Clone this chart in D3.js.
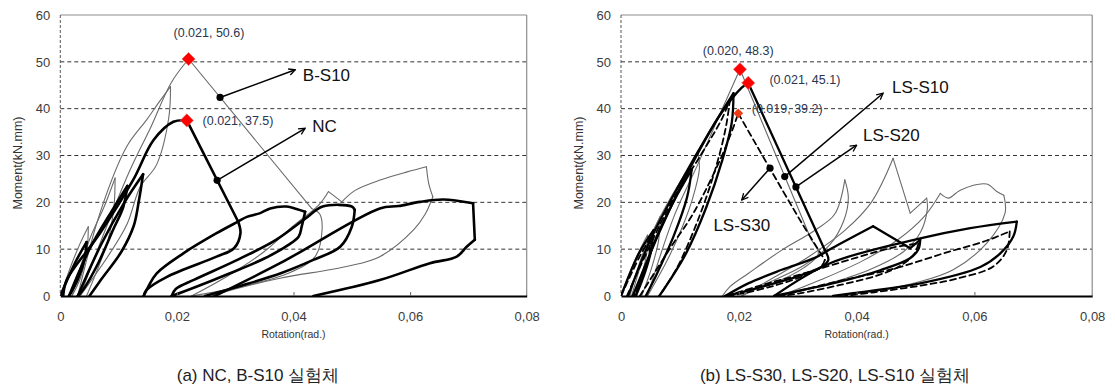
<!DOCTYPE html>
<html>
<head>
<meta charset="utf-8">
<script src="https://cdn.jsdelivr.net/npm/d3@7"></script>
<style>
  body { margin: 0; background: #fff; }
  text { font-family: "Liberation Sans", Arial, sans-serif; }
</style>
</head>
<body>
<div id="chart"></div>
<script>
// axis values
var xTicks = [0, 0.02, 0.04, 0.06, 0.08];
var xTickLabels = ["0", "0,02", "0,04", "0,06", "0,08"];
var yTicks = [0, 10, 20, 30, 40, 50, 60];
var gridValues = [10, 20, 30, 40, 50];

// moment-rotation branches [rotation, moment], one array per loading / unloading branch
// (a) NC
var ncBranches = [
  [[0,0],[0.0025,7],[0.0045,11.5]],
  [[0.0045,11.5],[0.0042,8],[0.003,3.5],[0.0015,0]],
  [[0.0015,0],[0.005,10],[0.009,18.5],[0.0115,23.5]],
  [[0.0115,23.5],[0.0108,19],[0.009,14],[0.0065,7],[0.004,1.5],[0.003,0]],
  [[0.003,0],[0.007,11],[0.011,20],[0.0142,26]],
  [[0.0142,26],[0.0135,20.5],[0.0126,15],[0.0105,9.5],[0.007,3.5],[0.005,0]],
  [[0.0005,0],[0.0011,3.4],[0.0068,13.4],[0.0125,24.8],[0.016,33.3],[0.0194,37.2],[0.0217,37.5]],
  [[0.0217,37.5],[0.0305,15.9]],
  [[0.0305,15.9],[0.0309,13.4],[0.0298,10.2],[0.0268,8.4],[0.0183,4.1],[0.0148,1.3],[0.0143,0]],
  [[0.0143,0],[0.0151,2],[0.0165,4.8],[0.0211,9.1],[0.0268,13.4],[0.0305,15.9],[0.032,16.9],[0.0343,17.7],[0.036,18.7],[0.0388,19.1],[0.0405,18.6],[0.042,18]],
  [[0.042,18],[0.0414,14.8],[0.0409,12.7],[0.039,10.8],[0.035,8],[0.029,4.8],[0.023,1.8],[0.0191,0]],
  [[0.0191,0],[0.0198,1.5],[0.023,3.5],[0.03,7.5],[0.037,12],[0.042,16.5],[0.045,19.1],[0.05,19.1],[0.0505,18.4]],
  [[0.0505,18.4],[0.05,14.8],[0.048,10.5],[0.0434,7.7],[0.0377,4.8],[0.031,2.2],[0.0248,0]],
  [[0.0265,0],[0.0377,7.0],[0.0548,18.7],[0.058,19.2],[0.0617,20.1],[0.0657,20.6],[0.0708,19.8]],
  [[0.0708,19.8],[0.0711,12.0]],
  [[0.0711,12.0],[0.0697,10.5],[0.068,8.4],[0.0634,7.0],[0.0548,3.4],[0.0434,0]]
];
// (a) B-S10
var bs10Branches = [
  [[0,0],[0.002,7],[0.0035,11.5],[0.0048,14.8]],
  [[0.0048,14.8],[0.0046,10],[0.0035,4],[0.002,0]],
  [[0.002,0],[0.005,12],[0.0075,19],[0.0094,25.2]],
  [[0.0094,25.2],[0.0092,19],[0.0082,12],[0.006,4.5],[0.0045,0]],
  [[0.003,0],[0.0068,17.7],[0.0114,31.9],[0.0148,37.6],[0.017,41.5],[0.0189,44.7]],
  [[0.0189,44.7],[0.0186,38],[0.0165,28],[0.0137,23.3],[0.0115,15.5],[0.0085,9.1],[0.0034,0]],
  [[0.0034,0],[0.008,15],[0.012,27],[0.0155,36],[0.019,45.5],[0.022,50.6]],
  [[0.022,50.6],[0.0431,18.7]],
  [[0.0431,18.7],[0.0445,17.5],[0.0449,14.1],[0.0437,8.4],[0.039,4.8],[0.031,2],[0.0225,0]],
  [[0.0225,0],[0.029,4.5],[0.035,9.5],[0.04,15],[0.0444,19.5],[0.046,22.3]],
  [[0.046,22.3],[0.0483,20.1]],
  [[0.0483,20.1],[0.0505,22.5],[0.055,24.8],[0.0595,26.5],[0.0628,27.6]],
  [[0.0628,27.6],[0.0632,24],[0.0639,21.2]],
  [[0.0639,21.2],[0.0626,17.5],[0.0606,14.1],[0.0548,8.4],[0.0491,6.3],[0.0377,3.8],[0.03,1.5],[0.026,0]]
];
// (b) LS-S10
var ls10Branches = [
  [[0,0],[0.0025,8],[0.0045,13]],
  [[0.0045,13],[0.0043,8.5],[0.003,3],[0.0018,0]],
  [[0.0018,0],[0.004,9],[0.0066,16.9]],
  [[0.0066,16.9],[0.0064,12],[0.0052,6],[0.0035,0]],
  [[0.0015,0],[0.004,10],[0.008,20],[0.0131,30.5]],
  [[0.0131,30.5],[0.0133,27],[0.0122,21],[0.0105,15],[0.008,8],[0.0045,0]],
  [[0.0045,0],[0.009,17],[0.013,28],[0.0165,38],[0.0202,48.4]],
  [[0.0202,48.4],[0.0323,12]],
  [[0.0323,12],[0.0335,9],[0.031,6],[0.026,2.8],[0.021,0.8],[0.0172,0]],
  [[0.0172,0],[0.0185,2],[0.0216,4.8],[0.0273,9.8],[0.033,14.1],[0.0363,17.5],[0.038,24.8]],
  [[0.038,24.8],[0.0386,21],[0.0378,16],[0.0355,11],[0.031,6.5],[0.025,2.8],[0.0205,0]],
  [[0.0205,0],[0.026,4],[0.032,8.5],[0.038,14],[0.0425,20],[0.0462,29.4]],
  [[0.0462,29.4],[0.0491,17.7]],
  [[0.0491,17.7],[0.0519,20.9]],
  [[0.0519,20.9],[0.052,18.5],[0.0508,13.5],[0.048,9.5],[0.042,5.5],[0.034,2.2],[0.027,0]],
  [[0.027,0],[0.034,3.5],[0.041,7.5],[0.047,12],[0.0515,17],[0.0542,21.9]],
  [[0.0542,21.9],[0.0556,20.9],[0.0576,22.6],[0.0621,23.9],[0.0638,22.3],[0.065,21.5]],
  [[0.065,21.5],[0.0652,17.7],[0.0621,11.3],[0.0564,5.6],[0.05,2.8],[0.042,0.8],[0.036,0]]
];
// (b) LS-S20
var ls20Branches = [
  [[0,0],[0.003,9],[0.0055,14]],
  [[0.0055,14],[0.005,9],[0.0035,3],[0.0025,0]],
  [[0.0025,0],[0.006,12.5],[0.0095,21.5],[0.012,27]],
  [[0.012,27],[0.0112,21],[0.009,13],[0.006,4.5],[0.0042,0]],
  [[0.0012,0],[0.005,12],[0.01,24],[0.015,35],[0.0191,43.3]],
  [[0.0191,43.3],[0.0188,37],[0.0172,29],[0.0145,19],[0.011,9],[0.0065,0]],
  [[0.002,0],[0.007,15],[0.012,28],[0.017,39],[0.0205,44.5],[0.0216,45.5]],
  [[0.0216,45.5],[0.0346,9.8]],
  [[0.0346,9.8],[0.0352,7.7],[0.034,6.2],[0.03,4.2],[0.024,2],[0.0195,0.5],[0.0177,0]],
  [[0.0177,0],[0.0216,2.7],[0.0273,5.6],[0.033,8.2],[0.0358,10.2],[0.0428,14.9]],
  [[0.0428,14.9],[0.0491,10.2]],
  [[0.0491,10.2],[0.0508,12.0]],
  [[0.0508,12.0],[0.0505,10],[0.049,8],[0.044,5.5],[0.037,3],[0.029,0.8],[0.026,0]],
  [[0.026,0],[0.0355,7.0],[0.0508,12.3],[0.0593,14.5],[0.0672,15.9]],
  [[0.0672,15.9],[0.0666,12.7],[0.0644,9.1],[0.061,6.2],[0.0508,2.7],[0.0394,0.6],[0.036,0]]
];
// (b) LS-S30
var ls30Branches = [
  [[0,0],[0.003,8],[0.005,12.5]],
  [[0.005,12.5],[0.0047,8],[0.0032,2.5],[0.0022,0]],
  [[0.001,0],[0.005,11],[0.009,21],[0.0135,30],[0.0172,38],[0.0185,42]],
  [[0.0185,42],[0.0178,36],[0.016,27],[0.013,16],[0.0095,6],[0.0065,0]],
  [[0.0032,0],[0.0085,10.5],[0.0123,17.7],[0.0168,29],[0.0191,36.1],[0.0199,39]],
  [[0.0199,39],[0.0304,16.2],[0.0346,7.7]],
  [[0.0346,7.7],[0.034,6.3],[0.031,4.3],[0.026,2.2],[0.0205,0.5],[0.018,0]],
  [[0.018,0],[0.023,2],[0.031,4.8],[0.04,8.2],[0.046,10.3],[0.0505,11.2]],
  [[0.0505,11.2],[0.0498,9],[0.0475,6.5],[0.0438,4.5],[0.037,2.3],[0.03,0.5],[0.027,0]],
  [[0.027,0],[0.035,2.6],[0.0468,6],[0.055,9.2],[0.062,11.8],[0.066,13.8]],
  [[0.066,13.8],[0.0655,9.8],[0.0632,6.3],[0.057,3.7],[0.0508,2.2],[0.043,0.8],[0.038,0]]
];

// peak points and their labels
var peaksA = [[0.022, 50.6], [0.0217, 37.5]];
var peakLabelsA = ["(0.021, 50.6)", "(0.021, 37.5)"];
var peakLabelPosA = [[0.0255, 56.2], [0.0244, 37.4]];
var peaksB = [[0.0202, 48.4], [0.0216, 45.5], [0.0199, 39.0]];
var peakLabelsB = ["(0.020, 48.3)", "(0.021, 45.1)", "(0.019, 39.2)"];
var peakLabelPosB = [[0.0199, 52.5], [0.0252, 46.1], [0.0222, 40.0]];

// specimen call-outs (dot on curve -> arrow tip -> name)
var namesA = ["B-S10", "NC"];
var leaderFromA = [[0.0274, 42.4], [0.0269, 24.7]];
var leaderToA = [[0.0403, 48.3], [0.042, 35.8]];
var namePosA = [[0.0416, 47.2], [0.0432, 36.3]];
var namesB = ["LS-S10", "LS-S20", "LS-S30"];
var leaderFromB = [[0.0278, 25.5], [0.0297, 23.3], [0.0253, 27.3]];
var leaderToB = [[0.0445, 43.3], [0.040, 32.2], [0.0205, 20.5]];
var namePosB = [[0.046, 44.6], [0.0411, 34.4], [0.0205, 15.2]];

var captions = ["(a) NC, B-S10 실험체", "(b) LS-S30, LS-S20, LS-S10 실험체"];

var W = 1115, H = 386;
var svg = d3.select("#chart").append("svg")
  .attr("width", W).attr("height", H);

var defs = svg.append("defs");
defs.append("marker")
  .attr("id", "arrow")
  .attr("viewBox", "0 0 10 10")
  .attr("refX", 9).attr("refY", 5)
  .attr("markerWidth", 8).attr("markerHeight", 8)
  .attr("markerUnits", "userSpaceOnUse")
  .attr("orient", "auto")
  .append("path")
  .attr("d", "M1,1 L9,5 L1,9")
  .attr("fill", "none").attr("stroke", "#000").attr("stroke-width", 1.6);

function drawPanel(p) {
  var x = d3.scaleLinear().domain([0, 0.08]).range([p.x0, p.x1]);
  var y = d3.scaleLinear().domain([0, 60]).range([p.y1, p.y0]);
  var g = svg.append("g");

  defs.append("clipPath").attr("id", p.id)
    .append("rect")
    .attr("x", p.x0).attr("y", p.y0)
    .attr("width", p.x1 - p.x0).attr("height", p.y1 - p.y0);

  // grid
  g.selectAll(".grid").data(gridValues).enter().append("line")
    .attr("x1", p.x0).attr("x2", p.x1)
    .attr("y1", function(d) { return y(d); })
    .attr("y2", function(d) { return y(d); })
    .attr("stroke", "#333").attr("stroke-width", 1)
    .attr("stroke-dasharray", "4,3");

  // frame
  g.append("line").attr("x1", p.x0).attr("x2", p.x1).attr("y1", y(60)).attr("y2", y(60))
    .attr("stroke", "#8c8c8c").attr("stroke-width", 1.2);
  g.append("line").attr("x1", p.x1).attr("x2", p.x1).attr("y1", y(60)).attr("y2", y(0))
    .attr("stroke", "#8c8c8c").attr("stroke-width", 1.2);
  g.append("line").attr("x1", p.x0).attr("x2", p.x0).attr("y1", y(60)).attr("y2", y(0))
    .attr("stroke", "#555").attr("stroke-width", 1)
    .attr("stroke-dasharray", "3,2");

  // curves, each branch smoothed on its own so the tips stay sharp
  var line = d3.line()
    .x(function(d) { return x(d[0]); })
    .y(function(d) { return y(d[1]); })
    .curve(d3.curveCatmullRom.alpha(0.5));
  var cg = g.append("g").attr("clip-path", "url(#" + p.id + ")");
  p.curves.forEach(function(c) {
    cg.append("g").selectAll("path")
      .data(c.data)
      .enter().append("path")
      .attr("d", line)
      .attr("fill", "none")
      .attr("stroke", c.color)
      .attr("stroke-width", c.width)
      .attr("stroke-linejoin", "round")
      .attr("stroke-linecap", "round")
      .attr("stroke-dasharray", c.dash || null);
  });

  // x axis
  var xAxis = g.append("g").attr("transform", "translate(0," + y(0) + ")")
    .call(d3.axisBottom(x).tickValues(xTicks)
      .tickFormat(function(d, i) { return xTickLabels[i]; })
      .tickSize(0).tickPadding(16));
  xAxis.select(".domain").attr("stroke", "#000").attr("stroke-width", 1.8);
  xAxis.selectAll("text").attr("font-size", 13).attr("fill", "#3c3c3c")
    .attr("font-family", "Liberation Sans, Arial, sans-serif");
  var inner = g.append("g").attr("transform", "translate(0," + y(0) + ")")
    .call(d3.axisTop(x).tickValues(xTicks.slice(1, 4)).tickSize(4).tickFormat(""));
  inner.select(".domain").remove();
  inner.selectAll("line").attr("stroke", "#666");

  // y axis labels
  var yAxis = g.append("g").attr("transform", "translate(" + p.x0 + ",0)")
    .call(d3.axisLeft(y).tickValues(yTicks).tickSize(0).tickPadding(10));
  yAxis.select(".domain").remove();
  yAxis.selectAll("text").attr("font-size", 13).attr("fill", "#3c3c3c")
    .attr("font-family", "Liberation Sans, Arial, sans-serif");

  // axis titles
  g.append("text")
    .attr("x", (p.x0 + p.x1) / 2).attr("y", 338)
    .attr("text-anchor", "middle").attr("font-size", 10.5).attr("fill", "#333")
    .text("Rotation(rad.)");
  g.append("text")
    .attr("transform", "translate(" + (p.x0 - 38) + ",163) rotate(-90)")
    .attr("text-anchor", "middle").attr("font-size", 12.5).attr("fill", "#333")
    .text("Moment(kN.mm)");

  // call-outs
  p.names.forEach(function(name, i) {
    var f = p.from[i], t = p.to[i], n = p.namePos[i];
    g.append("line")
      .attr("x1", x(f[0])).attr("y1", y(f[1]))
      .attr("x2", x(t[0])).attr("y2", y(t[1]))
      .attr("stroke", "#000").attr("stroke-width", 1.5)
      .attr("marker-end", "url(#arrow)");
    g.append("circle").attr("cx", x(f[0])).attr("cy", y(f[1])).attr("r", 3.6).attr("fill", "#000");
    g.append("text")
      .attr("x", x(n[0])).attr("y", y(n[1]))
      .attr("dy", "0.36em")
      .attr("text-anchor", p.nameAnchor[i])
      .attr("font-size", 17).attr("fill", "#111")
      .text(name);
  });

  // peak markers
  p.peaks.forEach(function(pk, i) {
    var small = p.smallPeak === i;
    g.append("path")
      .attr("d", d3.symbol().type(d3.symbolSquare).size(small ? 48 : 86)())
      .attr("transform", "translate(" + x(pk[0]) + "," + y(pk[1]) + ") rotate(45)")
      .attr("fill", small ? "#f03c14" : "#ff0000")
      .attr("stroke", small ? "none" : "#e86060").attr("stroke-width", 0.6);
  });
  p.peakLabels.forEach(function(lbl, i) {
    var lp = p.peakLabelPos[i];
    g.append("text")
      .attr("x", x(lp[0])).attr("y", y(lp[1]))
      .attr("dy", "0.35em")
      .attr("text-anchor", p.peakAnchor[i])
      .attr("font-family", "Noto Sans, sans-serif")
      .attr("font-size", 12.5).attr("fill", "#2a3550")
      .text(lbl);
  });

  // caption
  svg.append("text")
    .attr("x", p.captionX).attr("y", 381)
    .attr("text-anchor", "middle")
    .attr("font-family", "Noto Sans CJK KR, sans-serif")
    .attr("font-size", 17).attr("fill", "#222")
    .text(p.caption);
}

drawPanel({
  id: "clipA", x0: 60.3, x1: 526.7, y0: 15, y1: 296,
  curves: [
    { data: bs10Branches, color: "#6a6a6a", width: 1.1 },
    { data: ncBranches, color: "#000", width: 2.6 }
  ],
  peaks: peaksA, peakLabels: peakLabelsA, peakLabelPos: peakLabelPosA,
  peakAnchor: ["middle", "start"], smallPeak: -1,
  names: namesA, from: leaderFromA, to: leaderToA, namePos: namePosA,
  nameAnchor: ["start", "start"],
  caption: captions[0], captionX: 258
});

drawPanel({
  id: "clipB", x0: 621, x1: 1092.2, y0: 15, y1: 296,
  curves: [
    { data: ls10Branches, color: "#6a6a6a", width: 1.1 },
    { data: ls30Branches, color: "#000", width: 1.8, dash: "6,4" },
    { data: ls20Branches, color: "#000", width: 2.3 }
  ],
  peaks: peaksB, peakLabels: peakLabelsB, peakLabelPos: peakLabelPosB,
  peakAnchor: ["middle", "start", "start"], smallPeak: 2,
  names: namesB, from: leaderFromB, to: leaderToB, namePos: namePosB,
  nameAnchor: ["start", "start", "middle"],
  caption: captions[1], captionX: 835
});
</script>
</body>
</html>
